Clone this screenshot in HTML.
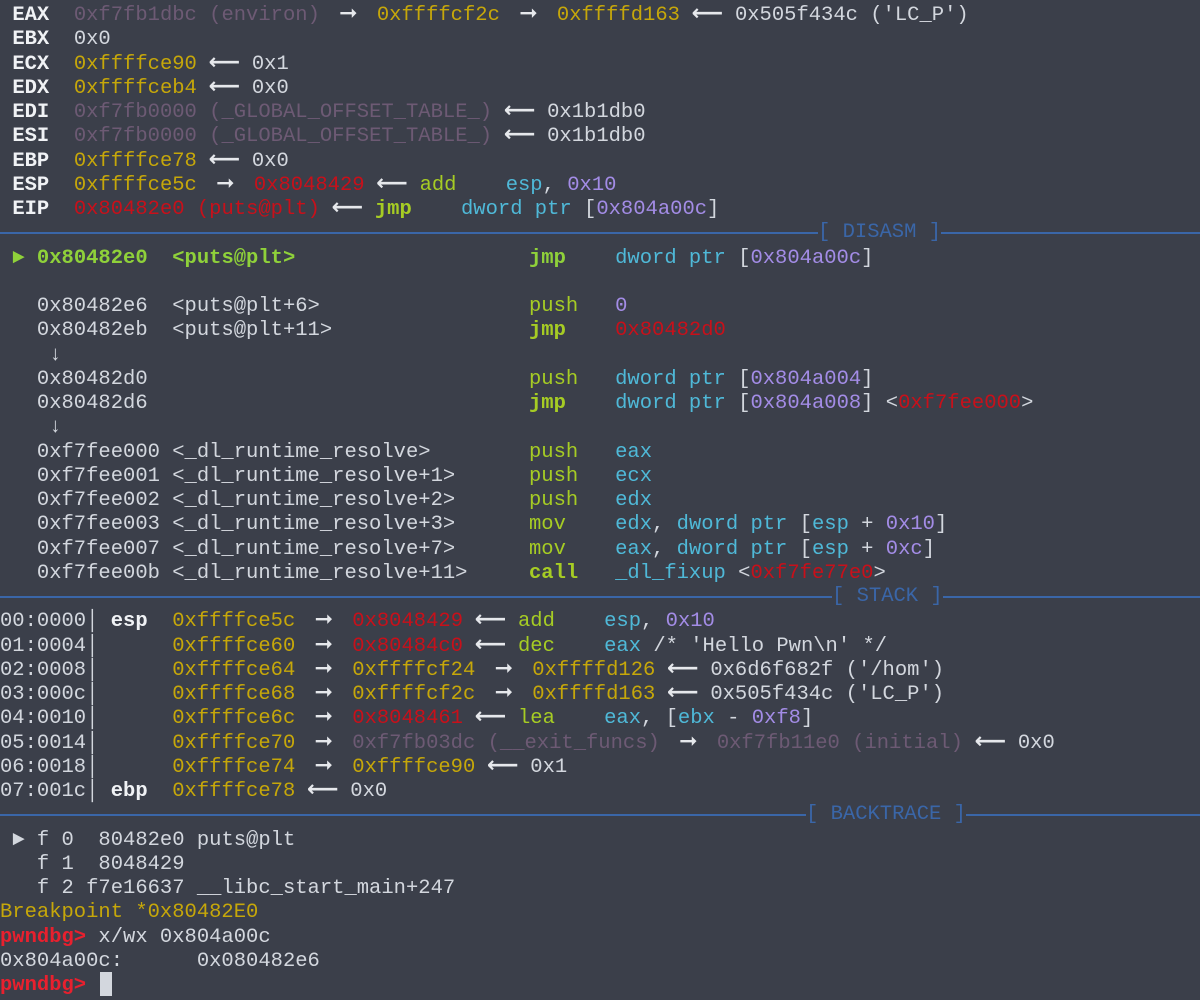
<!DOCTYPE html>
<html><head><meta charset="utf-8"><style>
html,body{margin:0;padding:0;background:#3b3f4a;width:1200px;height:1000px;overflow:hidden}
pre{position:absolute;left:0;top:4px;margin:0;font-family:"Liberation Mono","DejaVu Sans Mono",monospace;font-size:20.5px;line-height:24.25px;color:#d3d7de}
b{font-weight:bold;color:#f0f2f5}
.y{color:#c6a70a}.d{color:#6d5a74}.r{color:#c8101a}.g{color:#a6cc24}.gb{color:#a6cc24;font-weight:bold}
.c{color:#4fb9d8}.p{color:#a38ce6}.cur{color:#8fd13a;font-weight:bold}.pr{color:#e8202e;font-weight:bold}
.A,.L{display:inline-block;text-align:center;color:#e6e8ec;font-family:"DejaVu Sans",sans-serif;font-weight:bold;font-size:22px;line-height:20px}
.A{width:57px}.L{width:55px}
.o{display:inline-block;width:12.3px;text-align:center}
.rule{position:absolute;left:0;width:1200px;height:2px;background:#3a66a8}
.lab{position:absolute;font-family:"Liberation Mono","DejaVu Sans Mono",monospace;font-size:20.5px;color:#3a66a8;background:#3b3f4a;line-height:24px;white-space:pre}
.cursor{position:absolute;left:100px;top:972px;width:12px;height:24px;background:#d3d7de}
</style></head><body>
<pre> <b>EAX</b>  <span class="d">0xf7fb1dbc (environ)</span><span class="A">➞</span><span class="y">0xffffcf2c</span><span class="A">➞</span><span class="y">0xffffd163</span><span class="L">⟵</span>0x505f434c ('LC_P')
 <b>EBX</b>  0x0
 <b>ECX</b>  <span class="y">0xffffce90</span><span class="L">⟵</span>0x1
 <b>EDX</b>  <span class="y">0xffffceb4</span><span class="L">⟵</span>0x0
 <b>EDI</b>  <span class="d">0xf7fb0000 (_GLOBAL_OFFSET_TABLE_)</span><span class="L">⟵</span>0x1b1db0
 <b>ESI</b>  <span class="d">0xf7fb0000 (_GLOBAL_OFFSET_TABLE_)</span><span class="L">⟵</span>0x1b1db0
 <b>EBP</b>  <span class="y">0xffffce78</span><span class="L">⟵</span>0x0
 <b>ESP</b>  <span class="y">0xffffce5c</span><span class="A">➞</span><span class="r">0x8048429</span><span class="L">⟵</span><span class="g">add</span>    <span class="c">esp</span>, <span class="p">0x10</span>
 <b>EIP</b>  <span class="r">0x80482e0 (puts@plt)</span><span class="L">⟵</span><span class="gb">jmp</span>    <span class="c">dword ptr</span> [<span class="p">0x804a00c</span>]

<span class="cur"> <span class="o">►</span> 0x80482e0  &lt;puts@plt&gt;                   jmp    </span><span class="c">dword ptr</span> [<span class="p">0x804a00c</span>]

   0x80482e6  &lt;puts@plt+6&gt;                 <span class="g">push</span>   <span class="p">0</span>
   0x80482eb  &lt;puts@plt+11&gt;                <span class="gb">jmp</span>    <span class="r">0x80482d0</span>
    <span class="o">↓</span>
   0x80482d0                               <span class="g">push</span>   <span class="c">dword ptr</span> [<span class="p">0x804a004</span>]
   0x80482d6                               <span class="gb">jmp</span>    <span class="c">dword ptr</span> [<span class="p">0x804a008</span>] &lt;<span class="r">0xf7fee000</span>&gt;
    <span class="o">↓</span>
   0xf7fee000 &lt;_dl_runtime_resolve&gt;        <span class="g">push</span>   <span class="c">eax</span>
   0xf7fee001 &lt;_dl_runtime_resolve+1&gt;      <span class="g">push</span>   <span class="c">ecx</span>
   0xf7fee002 &lt;_dl_runtime_resolve+2&gt;      <span class="g">push</span>   <span class="c">edx</span>
   0xf7fee003 &lt;_dl_runtime_resolve+3&gt;      <span class="g">mov</span>    <span class="c">edx</span>, <span class="c">dword ptr</span> [<span class="c">esp</span> + <span class="p">0x10</span>]
   0xf7fee007 &lt;_dl_runtime_resolve+7&gt;      <span class="g">mov</span>    <span class="c">eax</span>, <span class="c">dword ptr</span> [<span class="c">esp</span> + <span class="p">0xc</span>]
   0xf7fee00b &lt;_dl_runtime_resolve+11&gt;     <span class="gb">call</span>   <span class="c">_dl_fixup</span> &lt;<span class="r">0xf7fe77e0</span>&gt;

00:0000<span class="o">│</span> <b>esp</b>  <span class="y">0xffffce5c</span><span class="A">➞</span><span class="r">0x8048429</span><span class="L">⟵</span><span class="g">add</span>    <span class="c">esp</span>, <span class="p">0x10</span>
01:0004<span class="o">│</span>      <span class="y">0xffffce60</span><span class="A">➞</span><span class="r">0x80484c0</span><span class="L">⟵</span><span class="g">dec</span>    <span class="c">eax</span> /* 'Hello Pwn\n' */
02:0008<span class="o">│</span>      <span class="y">0xffffce64</span><span class="A">➞</span><span class="y">0xffffcf24</span><span class="A">➞</span><span class="y">0xffffd126</span><span class="L">⟵</span>0x6d6f682f ('/hom')
03:000c<span class="o">│</span>      <span class="y">0xffffce68</span><span class="A">➞</span><span class="y">0xffffcf2c</span><span class="A">➞</span><span class="y">0xffffd163</span><span class="L">⟵</span>0x505f434c ('LC_P')
04:0010<span class="o">│</span>      <span class="y">0xffffce6c</span><span class="A">➞</span><span class="r">0x8048461</span><span class="L">⟵</span><span class="g">lea</span>    <span class="c">eax</span>, [<span class="c">ebx</span> - <span class="p">0xf8</span>]
05:0014<span class="o">│</span>      <span class="y">0xffffce70</span><span class="A">➞</span><span class="d">0xf7fb03dc (__exit_funcs)</span><span class="A">➞</span><span class="d">0xf7fb11e0 (initial)</span><span class="L">⟵</span>0x0
06:0018<span class="o">│</span>      <span class="y">0xffffce74</span><span class="A">➞</span><span class="y">0xffffce90</span><span class="L">⟵</span>0x1
07:001c<span class="o">│</span> <b>ebp</b>  <span class="y">0xffffce78</span><span class="L">⟵</span>0x0

 <span class="o">►</span> f 0  80482e0 puts@plt
   f 1  8048429
   f 2 f7e16637 __libc_start_main+247
<span class="y">Breakpoint *0x80482E0</span>
<span class="pr">pwndbg&gt;</span> x/wx 0x804a00c
0x804a00c:      0x080482e6
<span class="pr">pwndbg&gt;</span> </pre>
<div class="rule" style="top:232px"></div><div class="lab" style="left:818px;top:221px">[ DISASM ]</div>
<div class="rule" style="top:596px"></div><div class="lab" style="left:832px;top:585px">[ STACK ]</div>
<div class="rule" style="top:814px"></div><div class="lab" style="left:806px;top:803px">[ BACKTRACE ]</div>
<div class="cursor"></div>
</body></html>
